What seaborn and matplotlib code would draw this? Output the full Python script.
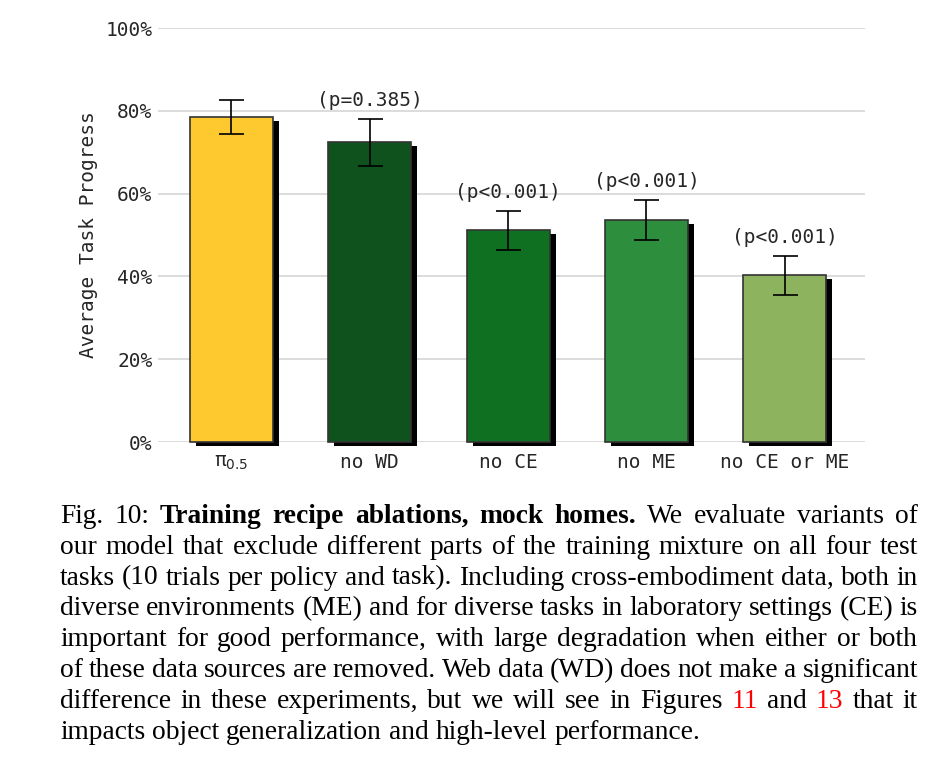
import numpy as np
import pandas as pd
import matplotlib
matplotlib.use("Agg")
import matplotlib.pyplot as plt
import matplotlib.patheffects as pe
from matplotlib.ticker import PercentFormatter
import seaborn as sns

# data
policies = ["pi05", "no WD", "no CE", "no ME", "no CE or ME"]
tick_labels = [r"π$_{\mathsf{0.5}}$", "no WD", "no CE", "no ME", "no CE or ME"]
progress = [78.5, 72.4, 51.1, 53.6, 40.3]
err = [4.0, 5.7, 4.8, 4.9, 4.7]
p_labels = ["", "(p=0.385)", "(p<0.001)", "(p<0.001)", "(p<0.001)"]
colors = ["#fec82f", "#10521e", "#107021", "#2d8e3d", "#8db35e"]

caption = [
    [("Fig.", "n"), ("10:", "n"), ("Training", "b"), ("recipe", "b"), ("ablations,", "b"),
     ("mock", "b"), ("homes.", "b"), ("We", "n"), ("evaluate", "n"), ("variants", "n"), ("of", "n")],
    [(w, "n") for w in "our model that exclude different parts of the training mixture on all four test".split()],
    [(w, "n") for w in "tasks (10 trials per policy and task). Including cross-embodiment data, both in".split()],
    [(w, "n") for w in "diverse environments (ME) and for diverse tasks in laboratory settings (CE) is".split()],
    [(w, "n") for w in "important for good performance, with large degradation when either or both".split()],
    [(w, "n") for w in "of these data sources are removed. Web data (WD) does not make a significant".split()],
    [(w, "n") for w in "difference in these experiments, but we will see in Figures".split()]
    + [("11", "r"), ("and", "n"), ("13", "r"), ("that", "n"), ("it", "n")],
    [(w, "n") for w in "impacts object generalization and high-level performance.".split()],
]

df = pd.DataFrame({"policy": policies, "progress": progress})

sns.set_style("whitegrid")
plt.rcParams["font.family"] = ["DejaVu Sans Mono", "DejaVu Sans"]
plt.rcParams["mathtext.fontset"] = "dejavusans"

W, H = 932, 768
fig = plt.figure(figsize=(W / 100, H / 100), dpi=100)
ax = fig.add_axes([158 / W, 1 - 442 / H, (865 - 158) / W, (442 - 28) / H])

sns.barplot(data=df, x="policy", y="progress", hue="policy", palette=colors, saturation=1,
            legend=False, width=0.6, edgecolor="#333333", linewidth=1.2, ax=ax, zorder=2)
for bar in ax.patches:
    bar.set_clip_on(False)
    bar.set_path_effects([pe.SimplePatchShadow(offset=(4.3, -2.9), shadow_rgbFace="black", alpha=1.0),
                          pe.Normal()])

x = np.arange(len(policies))
ax.errorbar(x, progress, yerr=err, fmt="none", ecolor="black", elinewidth=1.2,
            capsize=9, capthick=1.2, zorder=4)

for xi, v, e, lab in zip(x, progress, err, p_labels):
    if lab:
        ax.annotate(lab, (xi, v + e), xytext=(0, 6), textcoords="offset points",
                    ha="center", va="bottom", fontsize=14)

ax.set_xlim(-0.53, 4.58)
ax.set_ylim(0, 100)
ax.set_yticks([0, 20, 40, 60, 80, 100])
ax.yaxis.set_major_formatter(PercentFormatter(decimals=0))
ax.set_xticks(x)
ax.set_xticklabels(tick_labels)
ax.tick_params(axis="both", length=0, labelsize=14)
ax.tick_params(axis="x", pad=8)
ax.tick_params(axis="y", pad=4)
ax.set_xlabel("")
ax.set_ylabel("Average Task Progress", fontsize=14, labelpad=5)
ax.grid(axis="y", color="#d6d6d6", linewidth=1.2)
ax.grid(axis="x", visible=False)
for s in ax.spines.values():
    s.set_visible(False)

# justified caption, placed word by word
renderer = fig.canvas.get_renderer()
left, right = 60, 918
base0, step = 523, 30.8
cap_size = 19.8
styles = {"n": dict(color="black"), "b": dict(color="black", fontweight="bold"),
          "r": dict(color="red")}
for i, line in enumerate(caption):
    y = 1 - (base0 + i * step) / H
    texts = []
    for word, st in line:
        t = fig.text(0, y, word, fontsize=cap_size, family="Liberation Serif",
                     va="baseline", ha="left", **styles[st])
        texts.append(t)
    widths = [t.get_window_extent(renderer).width for t in texts]
    if i == len(caption) - 1:
        gap = fig.text(0, 0, "a b", fontsize=cap_size, family="Liberation Serif")
        ab = fig.text(0, 0, "ab", fontsize=cap_size, family="Liberation Serif")
        space = gap.get_window_extent(renderer).width - ab.get_window_extent(renderer).width
        gap.remove()
        ab.remove()
    else:
        space = (right - left - sum(widths)) / (len(texts) - 1)
    xpos = left
    for t, w in zip(texts, widths):
        t.set_x(xpos / W)
        xpos += w + space

fig.savefig("out.png", dpi=100)
